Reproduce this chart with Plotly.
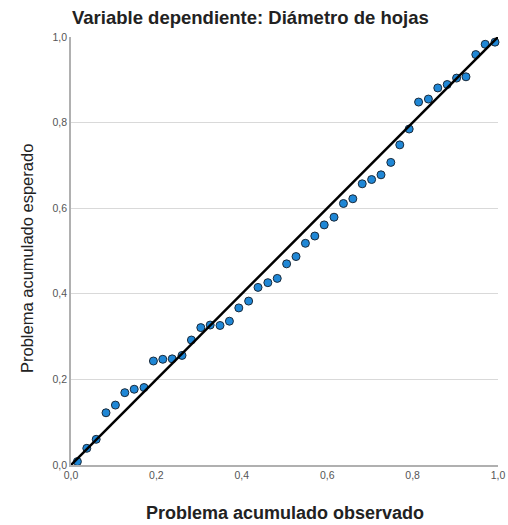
import plotly.graph_objects as go

# Observed cumulative probability (x) and expected cumulative probability (y)
observed = [0.015, 0.037, 0.059, 0.082, 0.104, 0.126, 0.148, 0.171, 0.193, 0.215,
            0.237, 0.260, 0.282, 0.304, 0.326, 0.349, 0.371, 0.393, 0.416, 0.438,
            0.461, 0.483, 0.505, 0.527, 0.549, 0.571, 0.593, 0.616, 0.638, 0.660,
            0.682, 0.704, 0.726, 0.749, 0.770, 0.792, 0.814, 0.837, 0.859, 0.881,
            0.903, 0.925, 0.948, 0.970, 0.993]
expected = [0.008, 0.039, 0.060, 0.122, 0.140, 0.169, 0.177, 0.181, 0.243, 0.247,
            0.248, 0.256, 0.292, 0.321, 0.327, 0.326, 0.336, 0.367, 0.383, 0.415,
            0.426, 0.436, 0.470, 0.487, 0.518, 0.535, 0.561, 0.579, 0.611, 0.622,
            0.657, 0.667, 0.678, 0.707, 0.748, 0.785, 0.848, 0.855, 0.881, 0.889,
            0.904, 0.907, 0.959, 0.983, 0.988]
ref_line = [0.0, 1.0]
tick_vals = [0.0, 0.2, 0.4, 0.6, 0.8, 1.0]
tick_text = ["0,0", "0,2", "0,4", "0,6", "0,8", "1,0"]

title_text = "Variable dependiente: Diámetro de hojas"
x_title = "Problema acumulado observado"
y_title = "Problema acumulado esperado"

W, H = 508, 525
fig = go.Figure()
fig.add_trace(go.Scatter(
    x=observed, y=expected, mode="markers",
    marker=dict(size=8, color="#1f87d6", line=dict(color="#1a2a3a", width=1)),
    cliponaxis=False, showlegend=False, hoverinfo="skip"))
fig.add_trace(go.Scatter(
    x=ref_line, y=ref_line, mode="lines",
    line=dict(color="black", width=2.5),
    cliponaxis=False, showlegend=False, hoverinfo="skip"))

fig.update_layout(
    width=W, height=H,
    margin=dict(l=71, r=10, t=37, b=60, autoexpand=False),
    paper_bgcolor="white", plot_bgcolor="white",
    font=dict(family="Liberation Sans, Arial, sans-serif", color="#222"),
    title=dict(text=title_text, x=72/W, xanchor="left", xref="container",
               y=1 - 18/H, yanchor="middle", yref="container",
               font=dict(size=18.5, color="#222", family="Liberation Sans, Arial, sans-serif", weight="bold")),
    annotations=[
        dict(text=x_title, xref="paper", yref="paper",
             x=(285 - 71) / 427, y=-(513 - 465) / 428,
             xanchor="center", yanchor="middle", showarrow=False,
             font=dict(size=18, color="#222", weight="bold")),
        dict(text=y_title, xref="paper", yref="paper",
             x=-(71 - 27) / 427, y=(465 - 259) / 428,
             xanchor="center", yanchor="middle", showarrow=False, textangle=-90,
             font=dict(size=16.5, color="#222")),
    ],
)
fig.update_xaxes(
    range=[0, 1], tickvals=tick_vals, ticktext=tick_text,
    showgrid=False, zeroline=False, showline=True, linecolor="#b0b0b0", linewidth=1.5,
    ticks="", tickfont=dict(size=10.5, color="#555"), automargin=False)
fig.update_yaxes(
    range=[0, 1], tickvals=tick_vals, ticktext=tick_text,
    showgrid=True, gridcolor="#d9d9d9", gridwidth=1,
    zeroline=False, showline=True, linecolor="#b0b0b0", linewidth=1.5,
    ticks="", tickfont=dict(size=10.5, color="#555"), automargin=False)

fig.write_html("out.html")
